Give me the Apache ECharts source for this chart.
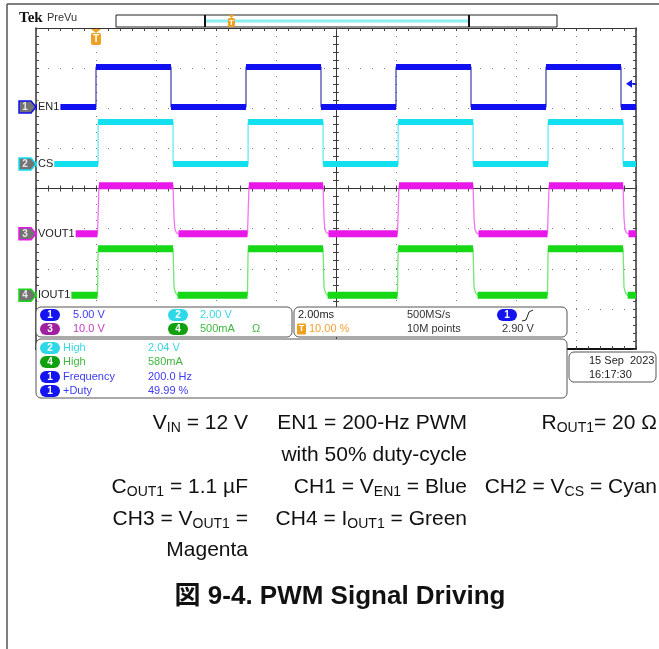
<!DOCTYPE html>
<html><head><meta charset="utf-8">
<script src="https://cdn.jsdelivr.net/npm/echarts/dist/echarts.min.js"></script>
<style>html,body{margin:0;padding:0;background:#fff}#c{width:659px;height:649px}</style>
</head><body><div id="c"></div><script>
// ---- data (time in ms, trigger at 0) ----
const en1Trace = [[-2,0],[0,0],[0,5],[2.5,5],[2.5,0],[5,0],[5,5],[7.5,5],[7.5,0],[10,0],[10,5],[12.5,5],[12.5,0],[15,0],[15,5],[17.5,5],[17.5,0],[18,0]];
const csTrace = [[-2,0],[0.07,0],[0.07,2.1],[2.57,2.1],[2.57,0],[5.07,0],[5.07,2.1],[7.57,2.1],[7.57,0],[10.07,0],[10.07,2.1],[12.57,2.1],[12.57,0],[15.07,0],[15.07,2.1],[17.57,2.1],[17.57,0],[18,0]];
const vout1Trace = [[-2,0],[0.05,0],[0.1,12],[2.57,12],[2.6,4],[2.63,1.2],[2.68,0.3],[2.75,0],
  [5.05,0],[5.1,12],[7.57,12],[7.6,4],[7.63,1.2],[7.68,0.3],[7.75,0],
  [10.05,0],[10.1,12],[12.57,12],[12.6,4],[12.63,1.2],[12.68,0.3],[12.75,0],
  [15.05,0],[15.1,12],[17.57,12],[17.6,4],[17.63,1.2],[17.68,0.3],[17.75,0],[18,0]];
const iout1Trace = [[-2,0],[0.05,0],[0.07,0.58],[2.57,0.58],[2.6,0.1],[2.65,0.03],[2.72,0],
  [5.05,0],[5.07,0.58],[7.57,0.58],[7.6,0.1],[7.65,0.03],[7.72,0],
  [10.05,0],[10.07,0.58],[12.57,0.58],[12.6,0.1],[12.65,0.03],[12.72,0],
  [15.05,0],[15.07,0.58],[17.57,0.58],[17.6,0.1],[17.65,0.03],[17.72,0],[18,0]];
const channelNames = ['EN1','CS','VOUT1','IOUT1'];
const channelNumbers = ['1','2','3','4'];
const voltsPerDiv = [5, 2, 10, 0.5];
const groundDiv = [2.03, 0.61, -1.13, -2.66];
const triggerLevelV = 2.90;
const timeRange = [-2, 18];
const scaleTexts = ['5.00 V','2.00 V','10.0 V','500mA'];
const measLabels = ['High','High','Frequency','+Duty'];
const measValues = ['2.04 V','580mA','200.0 Hz','49.99 %'];
const measChannels = [1, 3, 0, 0];

const traces = [en1Trace, csTrace, vout1Trace, iout1Trace];
const bandColors = ['#1010f0','#12e0ee','#e818e8','#16d816'];
const edgeColors = ['#20209a','#40e4f0','#f050f0','#50e050'];
const pillColors = ['#1414f0','#2ed8e8','#a020a0','#10a010'];
const textColors = ['#3c3cf0','#38d4e4','#c040c0','#40b840'];
const FONT = 'Liberation Sans, Arial, sans-serif';

function flats(tr){
  const out=[];
  for(let i=0;i<tr.length-1;i++){
    if(tr[i][1]===tr[i+1][1] && tr[i+1][0]>tr[i][0]){ out.push(tr[i], tr[i+1], [tr[i+1][0], null]); }
  }
  return out;
}

const chart = echarts.init(document.getElementById('c'), null, {renderer:'canvas'});
const base = {type:'value', min:timeRange[0], max:timeRange[1], interval:2, axisLabel:{show:false}, splitLine:{show:false}};
const tickStyle = {color:'#444', width:1};
function xa(extra){ return Object.assign({}, base, extra); }
const ybase = {type:'value', min:-4, max:4, interval:1, axisLabel:{show:false}, splitLine:{show:false}};
function ya(extra){ return Object.assign({}, ybase, extra); }

const xAxes = [
  xa({position:'bottom', axisLine:{show:true,onZero:false,lineStyle:{color:'#111',width:2}}, axisTick:{show:true,inside:true,length:3,lineStyle:tickStyle}, minorTick:{show:true,splitNumber:5,length:3,lineStyle:tickStyle},
      splitLine:{show:true,lineStyle:{color:'#777',width:1,type:[1,7]}}}),
  xa({position:'top', axisLine:{show:true,onZero:false,lineStyle:{color:'#333',width:1}}, axisTick:{show:true,inside:true,length:3,lineStyle:tickStyle}, minorTick:{show:true,splitNumber:5,length:3,lineStyle:tickStyle}}),
  xa({position:'top', offset:-160.5, axisLine:{show:true,onZero:false,lineStyle:{color:'#333',width:1}}, axisTick:{show:true,inside:true,length:3,lineStyle:tickStyle}, minorTick:{show:true,splitNumber:5,length:3,lineStyle:tickStyle}}),
  xa({position:'top', offset:-160.5, axisLine:{show:false,onZero:false}, axisTick:{show:true,inside:false,length:3,lineStyle:tickStyle}, minorTick:{show:true,splitNumber:5,length:3,lineStyle:tickStyle}})
];
const yAxes = [
  ya({position:'left', axisLine:{show:true,onZero:false,lineStyle:{color:'#333',width:1.5}}, axisTick:{show:true,inside:true,length:3,lineStyle:tickStyle}, minorTick:{show:true,splitNumber:5,length:3,lineStyle:tickStyle},
      splitLine:{show:true,lineStyle:{color:'#777',width:1,type:[1,11]}}}),
  ya({position:'right', axisLine:{show:true,onZero:false,lineStyle:{color:'#333',width:1.5}}, axisTick:{show:true,inside:true,length:3,lineStyle:tickStyle}, minorTick:{show:true,splitNumber:5,length:3,lineStyle:tickStyle}}),
  ya({position:'left', offset:-300, axisLine:{show:true,onZero:false,lineStyle:{color:'#333',width:1}}, axisTick:{show:true,inside:true,length:3,lineStyle:tickStyle}, minorTick:{show:true,splitNumber:5,length:3,lineStyle:tickStyle}}),
  ya({position:'left', offset:-300, axisLine:{show:false,onZero:false}, axisTick:{show:true,inside:false,length:3,lineStyle:tickStyle}, minorTick:{show:true,splitNumber:5,length:3,lineStyle:tickStyle}})
];
// per-channel hidden axes in physical units
for(let k=0;k<4;k++){
  yAxes.push({type:'value', show:false, min:(-4-groundDiv[k])*voltsPerDiv[k], max:(4-groundDiv[k])*voltsPerDiv[k]});
}
const series=[];
for(let k=0;k<4;k++){
  series.push({type:'line', xAxisIndex:0, yAxisIndex:4+k, data:traces[k], showSymbol:false, symbol:'none', animation:false,
    lineStyle:{color:edgeColors[k], width:1.3, opacity:0.8}, z:3});
  series.push({type:'line', xAxisIndex:0, yAxisIndex:4+k, data:flats(traces[k]), showSymbol:false, symbol:'none', connectNulls:false, animation:false,
    lineStyle:{color:bandColors[k], width:k<2?6:7, cap:'butt'}, z:4});
}
chart.setOption({
  backgroundColor:'#fff', animation:false,
  grid:{left:36, top:28, width:600, height:321, show:false},
  xAxis:xAxes, yAxis:yAxes, series:series
});

function px(t){ return chart.convertToPixel({xAxisIndex:0}, t); }
function py(k,v){ return chart.convertToPixel({yAxisIndex:4+k}, v); }

const G=[];
function txt(x,y,s,opt){ G.push({type:'text', x:x, y:y, z:100, style:Object.assign({text:s, fill:'#222', font:'11px '+FONT, textVerticalAlign:'middle', textAlign:'left'}, opt||{})}); }
function rect(x,y,w,h,opt){ G.push({type:'rect', z:99, shape:{x:x,y:y,width:w,height:h,r:(opt&&opt.r)||0}, style:Object.assign({fill:'#fff', stroke:'#555', lineWidth:1}, opt&&opt.style||{})}); }
function line(x1,y1,x2,y2,color,w,z){ G.push({type:'line', z:z||100, shape:{x1:x1,y1:y1,x2:x2,y2:y2}, style:{stroke:color, lineWidth:w}}); }
function pill(x,y,k,lbl){
  G.push({type:'rect', z:101, shape:{x:x,y:y-6,width:20,height:12,r:6}, style:{fill:pillColors[k]}});
  G.push({type:'text', z:102, x:x+10, y:y, style:{text:lbl, fill:'#fff', font:'bold 10px '+FONT, textAlign:'center', textVerticalAlign:'middle'}});
}

// page frame
line(7,4,7,649,'#555',1.5,90); line(7,4,659,4,'#555',1.5,90);
// header
txt(19,18,'Tek',{font:'bold 15px Liberation Serif, serif', fill:'#111'});
txt(47,18,'PreVu',{font:'11px '+FONT, fill:'#333'});
rect(116,15,441,12,{style:{stroke:'#222'}});
line(206,21,468,21,'#8ceef0',3,100);
line(205,15,205,27,'#111',2,101); line(469,15,469,27,'#111',2,101);
// small trigger mark in record bar
const recT = 205 + (0 - timeRange[0])/(timeRange[1]-timeRange[0])*264;
G.push({type:'polygon', z:102, shape:{points:[[recT-3,15],[recT+3,15],[recT,18]]}, style:{fill:'#f0a020'}});
G.push({type:'rect', z:102, shape:{x:recT-3.5,y:18,width:7,height:9,r:1.5}, style:{fill:'#f0a020'}});
G.push({type:'text', z:103, x:recT, y:22.5, style:{text:'T', fill:'#fff', font:'bold 8px '+FONT, textAlign:'center', textVerticalAlign:'middle'}});
// trigger position marker
const tx = px(0);
G.push({type:'polygon', z:102, shape:{points:[[tx-5,29],[tx+5,29],[tx,33]]}, style:{fill:'#f0a020'}});
G.push({type:'rect', z:102, shape:{x:tx-5,y:33,width:10,height:12,r:2}, style:{fill:'#f0a020'}});
G.push({type:'text', z:103, x:tx, y:39.5, style:{text:'T', fill:'#fff', font:'bold 10px '+FONT, textAlign:'center', textVerticalAlign:'middle'}});
// trigger level arrow
const ty = py(0, triggerLevelV);
G.push({type:'polygon', z:102, shape:{points:[[626,ty],[632,ty-4],[632,ty+4]]}, style:{fill:'#1414f0'}});
line(631,ty,636,ty,'#1414f0',1.5,102);
// channel markers and labels
for(let k=0;k<4;k++){
  const y = py(k,0);
  G.push({type:'polygon', z:102, shape:{points:[[19,y-6],[31,y-6],[36,y],[31,y+6],[19,y+6]]}, style:{fill:'#737373', stroke:bandColors[k], lineWidth:1.5}});
  G.push({type:'text', z:103, x:25, y:y, style:{text:channelNumbers[k], fill:'#e8e8e8', font:'bold 10px '+FONT, textAlign:'center', textVerticalAlign:'middle'}});
  G.push({type:'text', z:101, x:37, y:y, style:{text:channelNames[k], fill:'#222', font:'11px '+FONT, textAlign:'left', textVerticalAlign:'middle', backgroundColor:'#fff', padding:[1,1,1,1]}});
}
// panel A: vertical settings
rect(36,307,256,30,{r:5});
pill(40,315,0,'1'); txt(73,315,scaleTexts[0],{fill:textColors[0]});
pill(168,315,1,'2'); txt(200,315,scaleTexts[1],{fill:textColors[1]});
pill(40,329,2,'3'); txt(73,329,scaleTexts[2],{fill:textColors[2]});
pill(168,329,3,'4'); txt(200,329,scaleTexts[3],{fill:textColors[3]}); txt(252,329,'Ω',{fill:textColors[3]});
// panel C: horizontal/trigger
rect(294,307,273,30,{r:5});
txt(298,315,'2.00ms',{fill:'#222'});
G.push({type:'rect', z:101, shape:{x:297,y:323.5,width:9,height:11,r:1}, style:{fill:'#f0a020'}});
G.push({type:'text', z:102, x:301.5, y:329, style:{text:'T', fill:'#fff', font:'bold 9px '+FONT, textAlign:'center', textVerticalAlign:'middle'}});
txt(309,329,'10.00 %',{fill:'#f0a030'});
txt(407,315,'500MS/s',{fill:'#333'}); txt(407,329,'10M points',{fill:'#333'});
pill(497,315,0,'1');
G.push({type:'polyline', z:101, shape:{points:[[522,321],[526,320],[529,312],[533,310]]}, style:{stroke:'#222', lineWidth:1, fill:null}});
txt(502,329,'2.90 V',{fill:'#333'});
// panel B: measurements
rect(36,339,531,59,{r:5});
const rowY=[348,362,377,391];
for(let i=0;i<4;i++){
  const k=measChannels[i];
  pill(40,rowY[i],k,channelNumbers[k]);
  txt(63,rowY[i],measLabels[i],{fill:textColors[k]});
  txt(148,rowY[i],measValues[i],{fill:textColors[k]});
}
// date box
rect(569,352,87,30,{r:5});
txt(589,361,'15 Sep  2023',{fill:'#222'}); txt(589,375,'16:17:30',{fill:'#222'});

// description
const rich = {n:{fontSize:21, fontFamily:FONT, fill:'#111'}, s:{fontSize:14, fontFamily:FONT, fill:'#111', padding:[10,0,0,0]}};
function desc(x,y,s){ G.push({type:'text', z:100, x:x, y:y, style:{text:s, rich:rich, textAlign:'right', textVerticalAlign:'middle', font:'21px '+FONT, fill:'#111'}}); }
desc(248,423,'{n|V}{s|IN}{n| = 12 V}');
desc(467,423,'{n|EN1 = 200-Hz PWM}');
desc(657,423,'{n|R}{s|OUT1}{n|= 20 Ω}');
desc(467,455,'{n|with 50% duty-cycle}');
desc(248,487,'{n|C}{s|OUT1}{n| = 1.1 µF}');
desc(467,487,'{n|CH1 = V}{s|EN1}{n| = Blue}');
desc(657,487,'{n|CH2 = V}{s|CS}{n| = Cyan}');
desc(248,519,'{n|CH3 = V}{s|OUT1}{n| =}');
desc(467,519,'{n|CH4 = I}{s|OUT1}{n| = Green}');
desc(248,550,'{n|Magenta}');
G.push({type:'text', z:100, x:340, y:597, style:{text:'図 9-4. PWM Signal Driving', fill:'#111', font:'bold 26px Liberation Sans, Noto Sans CJK JP, sans-serif', textAlign:'center', textVerticalAlign:'middle'}});

chart.setOption({graphic:G});
</script></body></html>
